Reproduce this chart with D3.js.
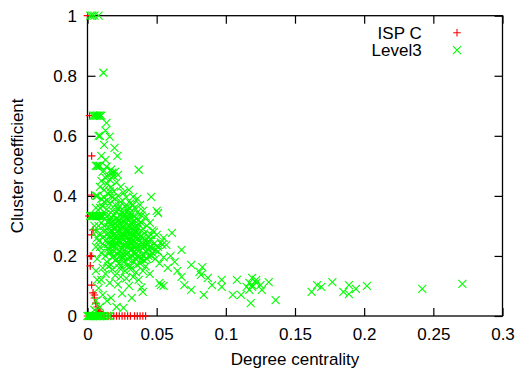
<!DOCTYPE html>
<html>
<head>
<meta charset="utf-8">
<script src="https://cdn.jsdelivr.net/npm/d3@7/dist/d3.min.js"></script>
<style>
  html, body { margin: 0; padding: 0; background: #fff; }
  svg text { font-family: "Liberation Sans", Arial, sans-serif; fill: #000; }
</style>
</head>
<body>
<svg id="chart" width="517" height="374"></svg>
<script>
// Tick values for both axes
const xTicks = [0, 0.05, 0.1, 0.15, 0.2, 0.25, 0.3];
const yTicks = [0, 0.2, 0.4, 0.6, 0.8, 1];

// Series names for the legend
const seriesNames = ["ISP C", "Level3"];

// ISP C: [degree centrality, cluster coefficient]
const ispC = [
  [0, 1], [0.0015, 0.667], [0.003, 0.533], [0.003, 0.403], [0.001, 0.333], [0.002, 0.333],
  [0.004, 0.287], [0.003, 0.27], [0.003, 0.2], [0.002, 0.2], [0.002, 0.167], [0.003, 0.103],
  [0.004, 0.077], [0.005, 0.07], [0.005, 0.06], [0.006, 0.043], [0.007, 0.03], [0.008, 0.02],
  [0.009, 0.015],
  [0, 0], [0.002, 0], [0.004, 0], [0.006, 0], [0.008, 0], [0.01, 0], [0.012, 0], [0.013, 0],
  [0.015, 0], [0.017, 0], [0.019, 0], [0.021, 0], [0.023, 0], [0.025, 0], [0.027, 0],
  [0.029, 0], [0.031, 0], [0.034, 0], [0.036, 0], [0.038, 0], [0.04, 0], [0.042, 0]
];

// Level3: [degree centrality, cluster coefficient]
const level3 = [
  [0.002, 1], [0.0035, 1], [0.005, 1], [0.008, 1], [0.0115, 0.81],
  [0.004, 0.667], [0.005, 0.667], [0.006, 0.667], [0.007, 0.667], [0.008, 0.667], [0.009, 0.667], [0.01, 0.667],
  [0.0137, 0.643], [0.013, 0.617], [0.009, 0.6], [0.008, 0.6], [0.016, 0.597], [0.012, 0.57],
  [0.0195, 0.56], [0.01, 0.533], [0.0216, 0.533], [0.013, 0.52],
  [0.006, 0.5], [0.007, 0.5], [0.008, 0.5], [0.009, 0.5], [0.0137, 0.497], [0.017, 0.487],
  [0.018, 0.477], [0.037, 0.487], [0.011, 0.48], [0.015, 0.47], [0.02, 0.48], [0.019, 0.465],
  [0.022, 0.47], [0.016, 0.455], [0.013, 0.46],
  [0.01, 0.45], [0.014, 0.44], [0.017, 0.43], [0.021, 0.445], [0.024, 0.43], [0.012, 0.42],
  [0.019, 0.415], [0.026, 0.41], [0.03, 0.42], [0.009, 0.43], [0.015, 0.405], [0.022, 0.4],
  [0.028, 0.395], [0.033, 0.397], [0.046, 0.397], [0.006, 0.4], [0.007, 0.4], [0.036, 0.39],
  [0.002, 0.333], [0.003, 0.333], [0.004, 0.333], [0.005, 0.333], [0.006, 0.333], [0.007, 0.333],
  [0.008, 0.333], [0.009, 0.333], [0.01, 0.333], [0.011, 0.333],
  [0.012, 0.38], [0.016, 0.375], [0.02, 0.37], [0.024, 0.38], [0.027, 0.365], [0.031, 0.375],
  [0.034, 0.36], [0.038, 0.37], [0.014, 0.355], [0.018, 0.35], [0.022, 0.355], [0.025, 0.345],
  [0.029, 0.35], [0.032, 0.34], [0.036, 0.345], [0.04, 0.35], [0.051, 0.343], [0.05, 0.35],
  [0.013, 0.34], [0.017, 0.33], [0.021, 0.325], [0.026, 0.33], [0.03, 0.32], [0.035, 0.325],
  [0.042, 0.33], [0.045, 0.31],
  [0.008, 0.3], [0.01, 0.31], [0.012, 0.3], [0.015, 0.31], [0.018, 0.3], [0.02, 0.31],
  [0.023, 0.305], [0.026, 0.295], [0.028, 0.31], [0.031, 0.3], [0.034, 0.295], [0.037, 0.305],
  [0.04, 0.29], [0.043, 0.3], [0.047, 0.285], [0.006, 0.28], [0.009, 0.275], [0.013, 0.285],
  [0.016, 0.28], [0.019, 0.27], [0.022, 0.285], [0.025, 0.275], [0.027, 0.265], [0.029, 0.28],
  [0.032, 0.27], [0.035, 0.28], [0.038, 0.265], [0.041, 0.275], [0.044, 0.265], [0.05, 0.27],
  [0.055, 0.26], [0.061, 0.277], [0.011, 0.26], [0.014, 0.255], [0.017, 0.25], [0.02, 0.26],
  [0.023, 0.25], [0.026, 0.255], [0.028, 0.245], [0.03, 0.255], [0.033, 0.25], [0.036, 0.255],
  [0.039, 0.245], [0.042, 0.25], [0.046, 0.255], [0.048, 0.24], [0.053, 0.245], [0.008, 0.25],
  [0.054, 0.237],
  // dense core
  [0.014, 0.33], [0.016, 0.32], [0.019, 0.335], [0.021, 0.345], [0.023, 0.32], [0.024, 0.335],
  [0.026, 0.315], [0.027, 0.34], [0.028, 0.325], [0.03, 0.34], [0.031, 0.33], [0.033, 0.315],
  [0.034, 0.33], [0.037, 0.32], [0.039, 0.335], [0.015, 0.295], [0.017, 0.31], [0.019, 0.29],
  [0.021, 0.3], [0.022, 0.315], [0.024, 0.29], [0.025, 0.305], [0.027, 0.285], [0.029, 0.3],
  [0.03, 0.285], [0.032, 0.305], [0.033, 0.285], [0.035, 0.3], [0.036, 0.29], [0.039, 0.31],
  [0.014, 0.27], [0.016, 0.265], [0.018, 0.28], [0.02, 0.275], [0.021, 0.265], [0.023, 0.275],
  [0.024, 0.265], [0.026, 0.27], [0.028, 0.28], [0.029, 0.265], [0.031, 0.275], [0.032, 0.26],
  [0.034, 0.27], [0.036, 0.265], [0.037, 0.275], [0.04, 0.26], [0.015, 0.24], [0.018, 0.245],
  [0.019, 0.255], [0.021, 0.24], [0.022, 0.25], [0.024, 0.245], [0.025, 0.26], [0.027, 0.25],
  [0.029, 0.24], [0.031, 0.245], [0.032, 0.235], [0.034, 0.245], [0.035, 0.24], [0.037, 0.25],
  [0.04, 0.24], [0.043, 0.235], [0.016, 0.22], [0.017, 0.235], [0.019, 0.215], [0.02, 0.23],
  [0.023, 0.215], [0.025, 0.225], [0.026, 0.235], [0.028, 0.215], [0.029, 0.23], [0.031, 0.22],
  [0.033, 0.23], [0.034, 0.215], [0.036, 0.225], [0.039, 0.23], [0.042, 0.215], [0.045, 0.23],
  [0.018, 0.195], [0.021, 0.19], [0.024, 0.2], [0.026, 0.195], [0.027, 0.2], [0.029, 0.19],
  [0.032, 0.2], [0.035, 0.19], [0.036, 0.2], [0.039, 0.19], [0.041, 0.185], [0.044, 0.2],
  [0.047, 0.21], [0.049, 0.22], [0.051, 0.23], [0.044, 0.25], [0.046, 0.27], [0.048, 0.28],
  [0.009, 0.36], [0.011, 0.365], [0.012, 0.395], [0.014, 0.385], [0.018, 0.395], [0.02, 0.39],
  [0.023, 0.365], [0.028, 0.37], [0.03, 0.36], [0.033, 0.37], [0.01, 0.39], [0.016, 0.415],
  [0.006, 0.23], [0.006, 0.15], [0.007, 0.12], [0.007, 0.26], [0.005, 0.3], [0.006, 0.36],
  [0.009, 0.23], [0.012, 0.235], [0.015, 0.225], [0.018, 0.235], [0.021, 0.225], [0.024, 0.23],
  [0.027, 0.22], [0.03, 0.235], [0.032, 0.22], [0.035, 0.23], [0.038, 0.22], [0.041, 0.23],
  [0.044, 0.22], [0.047, 0.225], [0.051, 0.215], [0.057, 0.237], [0.068, 0.22], [0.01, 0.21],
  [0.013, 0.2], [0.016, 0.21], [0.019, 0.2], [0.022, 0.205], [0.025, 0.195], [0.028, 0.205],
  [0.031, 0.195], [0.034, 0.205], [0.037, 0.195], [0.04, 0.2], [0.043, 0.19], [0.046, 0.2],
  [0.049, 0.19], [0.055, 0.195], [0.06, 0.2], [0.063, 0.18], [0.007, 0.19], [0.014, 0.18],
  [0.02, 0.185], [0.026, 0.18], [0.029, 0.17], [0.033, 0.18], [0.038, 0.175], [0.042, 0.165],
  [0.052, 0.175], [0.023, 0.175], [0.031, 0.165], [0.036, 0.17], [0.017, 0.17], [0.025, 0.16],
  [0.011, 0.16], [0.015, 0.165], [0.018, 0.155], [0.023, 0.16], [0.027, 0.15], [0.031, 0.155],
  [0.035, 0.145], [0.04, 0.15], [0.045, 0.14], [0.013, 0.14], [0.02, 0.135], [0.024, 0.13],
  [0.028, 0.125], [0.033, 0.13], [0.037, 0.12], [0.058, 0.16], [0.065, 0.15], [0.075, 0.17],
  [0.083, 0.163], [0.081, 0.147], [0.068, 0.13], [0.082, 0.137], [0.087, 0.127], [0.01, 0.12],
  [0.016, 0.11], [0.022, 0.105], [0.03, 0.1], [0.039, 0.095], [0.052, 0.11], [0.053, 0.103],
  [0.055, 0.1], [0.07, 0.103], [0.075, 0.087], [0.084, 0.07], [0.09, 0.103], [0.097, 0.12],
  [0.097, 0.097], [0.105, 0.07], [0.108, 0.12], [0.111, 0.07], [0.115, 0.097], [0.119, 0.103],
  [0.122, 0.12], [0.119, 0.127], [0.117, 0.11], [0.119, 0.097], [0.122, 0.11], [0.125, 0.103],
  [0.126, 0.087], [0.131, 0.113], [0.117, 0.087], [0.118, 0.043], [0.136, 0.053],
  [0.008, 0.093], [0.011, 0.07], [0.017, 0.06], [0.021, 0.03], [0.026, 0.027], [0.014, 0.05],
  [0.025, 0.075], [0.032, 0.06], [0.04, 0.08], [0.006, 0.05], [0.005, 0.02], [0.009, 0.03],
  [0, 0], [0.001, 0], [0.002, 0], [0.003, 0], [0.004, 0], [0.005, 0], [0.006, 0], [0.007, 0],
  [0.008, 0], [0.009, 0], [0.01, 0], [0.012, 0], [0.014, 0], [0.016, 0],
  [0.162, 0.08], [0.166, 0.103], [0.169, 0.097], [0.177, 0.113], [0.185, 0.08], [0.189, 0.103],
  [0.189, 0.073], [0.194, 0.09], [0.202, 0.1], [0.242, 0.09], [0.271, 0.107]
];

const svg = d3.select("#chart");
const margin = { left: 87.5, right: 14.5, top: 15.7, bottom: 58 };
const W = 517, H = 374;
const plotW = W - margin.left - margin.right;
const plotH = H - margin.top - margin.bottom;

const x = d3.scaleLinear().domain([0, 0.3]).range([margin.left, margin.left + plotW]);
const y = d3.scaleLinear().domain([0, 1]).range([margin.top + plotH, margin.top]);

const fontSize = 17;
const fmt = d => d3.format("~g")(d);

// Axes with inward ticks on all four sides
const gBottom = svg.append("g").attr("transform", `translate(0,${y(0)})`)
  .call(d3.axisBottom(x).tickValues(xTicks).tickSize(-8).tickPadding(11.5).tickFormat(fmt));
const gTop = svg.append("g").attr("transform", `translate(0,${y(1)})`)
  .call(d3.axisTop(x).tickValues(xTicks).tickSize(-8).tickFormat(""));
const gLeft = svg.append("g").attr("transform", `translate(${x(0)},0)`)
  .call(d3.axisLeft(y).tickValues(yTicks).tickSize(-8).tickPadding(10.5).tickFormat(fmt));
const gRight = svg.append("g").attr("transform", `translate(${x(0.3)},0)`)
  .call(d3.axisRight(y).tickValues(yTicks).tickSize(-8).tickFormat(""));

[gBottom, gTop, gLeft, gRight].forEach(g => {
  g.select(".domain").remove();
  g.selectAll(".tick line").attr("stroke", "#000").attr("stroke-width", 1.2);
  g.selectAll("text").attr("font-size", fontSize)
    .attr("font-family", "'Liberation Sans', Arial, sans-serif").attr("fill", "#000");
});

// Plot border
svg.append("rect")
  .attr("x", x(0)).attr("y", y(1))
  .attr("width", x(0.3) - x(0)).attr("height", y(0) - y(1))
  .attr("fill", "none").attr("stroke", "#000").attr("stroke-width", 1.3);

// Marker shapes
const plusPath = s => `M${-s},0H${s}M0,${-s}V${s}`;
const crossPath = s => `M${-s},${-s}L${s},${s}M${-s},${s}L${s},${-s}`;

const pts = svg.append("g");
pts.selectAll("path.isp").data(ispC).enter().append("path")
  .attr("class", "isp")
  .attr("transform", d => `translate(${x(d[0])},${y(d[1])})`)
  .attr("d", plusPath(3.8))
  .attr("stroke", "#ff0000").attr("stroke-width", 1.2).attr("fill", "none");

pts.selectAll("path.l3").data(level3).enter().append("path")
  .attr("class", "l3")
  .attr("transform", d => `translate(${x(d[0])},${y(d[1])})`)
  .attr("d", crossPath(4))
  .attr("stroke", "#00ff00").attr("stroke-width", 1.1).attr("fill", "none");

// Legend
const legend = svg.append("g");
const legendColors = ["#ff0000", "#00ff00"];
const legendShapes = [plusPath(3.8), crossPath(4)];
seriesNames.forEach((name, i) => {
  const cy = 32.7 + i * 17.5;
  legend.append("text")
    .attr("x", 421.7).attr("y", cy).attr("dy", "0.35em")
    .attr("text-anchor", "end").attr("font-size", fontSize)
    .text(name);
  legend.append("path")
    .attr("transform", `translate(457,${cy})`)
    .attr("d", legendShapes[i])
    .attr("stroke", legendColors[i]).attr("stroke-width", 1.1).attr("fill", "none");
});

// Axis titles
svg.append("text")
  .attr("x", (x(0) + x(0.3)) / 2).attr("y", 365)
  .attr("text-anchor", "middle").attr("font-size", fontSize)
  .text("Degree centrality");
svg.append("text")
  .attr("transform", `translate(23,${(y(0) + y(1)) / 2}) rotate(-90)`)
  .attr("text-anchor", "middle").attr("font-size", fontSize)
  .text("Cluster coefficient");
</script>
</body>
</html>
